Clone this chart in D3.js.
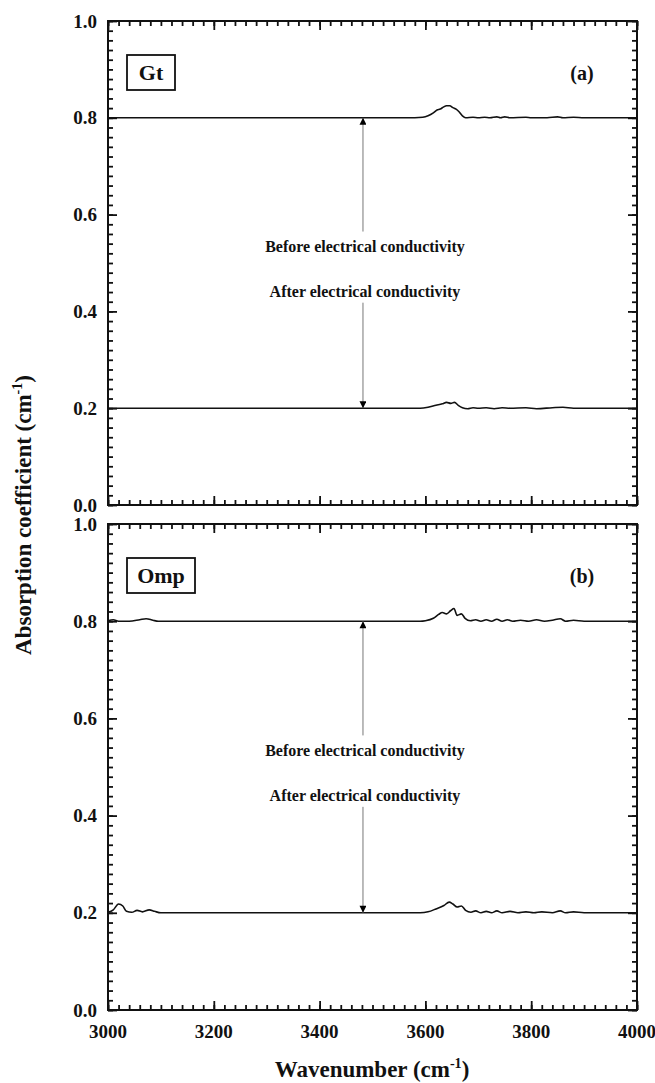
<!DOCTYPE html>
<html>
<head>
<meta charset="utf-8">
<script src="https://cdn.jsdelivr.net/npm/d3@7"></script>
<style>
  html, body { margin: 0; padding: 0; background: #fff; }
  svg { display: block; }
</style>
</head>
<body>
<svg id="chart" width="655" height="1083"></svg>
<script>
// Wavenumber axis ticks and absorption-coefficient ticks
const xTickValues = [3000, 3200, 3400, 3600, 3800, 4000];
const yTickValues = [0.0, 0.2, 0.4, 0.6, 0.8, 1.0];

// Gt (garnet) spectra: [wavenumber, absorption coefficient], offset for display
const gtBefore = [
  [3000,0.800],[3100,0.800],[3200,0.800],[3300,0.800],[3400,0.800],[3500,0.800],
  [3580,0.800],[3595,0.801],[3605,0.804],[3615,0.810],[3622,0.816],[3628,0.818],
  [3634,0.822],[3640,0.825],[3646,0.825],[3652,0.821],[3658,0.818],[3664,0.812],
  [3670,0.804],[3676,0.800],[3690,0.801],[3700,0.800],[3712,0.801],[3722,0.800],
  [3735,0.802],[3742,0.800],[3750,0.802],[3760,0.800],[3790,0.801],[3800,0.800],
  [3830,0.800],[3850,0.802],[3860,0.800],[3880,0.801],[3900,0.800],[3950,0.800],[4000,0.800]
];
const gtAfter = [
  [3000,0.200],[3100,0.200],[3200,0.200],[3300,0.200],[3400,0.200],[3500,0.200],
  [3590,0.200],[3605,0.202],[3620,0.206],[3632,0.209],[3640,0.212],[3648,0.210],
  [3655,0.212],[3662,0.206],[3670,0.201],[3680,0.199],[3690,0.201],[3700,0.200],
  [3715,0.201],[3730,0.199],[3745,0.201],[3760,0.200],[3790,0.201],[3810,0.199],
  [3840,0.201],[3860,0.202],[3880,0.200],[3950,0.200],[4000,0.200]
];

// Omp (omphacite) spectra
const ompBefore = [
  [3000,0.801],[3010,0.803],[3020,0.800],[3040,0.800],[3060,0.803],[3072,0.805],
  [3085,0.802],[3095,0.800],[3200,0.800],[3300,0.800],[3400,0.800],[3500,0.800],
  [3590,0.800],[3600,0.801],[3615,0.806],[3625,0.814],[3632,0.818],[3640,0.815],
  [3648,0.822],[3654,0.826],[3660,0.812],[3668,0.815],[3675,0.806],[3685,0.801],
  [3695,0.803],[3705,0.800],[3715,0.803],[3725,0.800],[3735,0.804],[3745,0.800],
  [3755,0.803],[3765,0.800],[3780,0.802],[3795,0.800],[3810,0.803],[3825,0.800],
  [3840,0.802],[3855,0.805],[3865,0.800],[3880,0.802],[3900,0.800],[3950,0.800],[4000,0.800]
];
const ompAfter = [
  [3000,0.201],[3010,0.206],[3020,0.218],[3028,0.214],[3035,0.203],[3045,0.201],
  [3055,0.205],[3065,0.202],[3078,0.206],[3088,0.203],[3100,0.200],[3200,0.200],
  [3300,0.200],[3400,0.200],[3500,0.200],[3590,0.200],[3605,0.202],[3620,0.208],
  [3635,0.215],[3645,0.222],[3652,0.218],[3660,0.212],[3668,0.214],[3676,0.205],
  [3686,0.201],[3695,0.204],[3705,0.200],[3715,0.203],[3725,0.200],[3735,0.204],
  [3745,0.200],[3760,0.203],[3775,0.200],[3790,0.202],[3805,0.200],[3820,0.202],
  [3840,0.200],[3855,0.204],[3865,0.200],[3880,0.202],[3900,0.200],[3950,0.200],[4000,0.200]
];

const panelNames = ["Gt", "Omp"];
const panelTags = ["(a)", "(b)"];
const arrowWavenumber = 3482;
const noteBefore = "Before electrical conductivity";
const noteAfter = "After electrical conductivity";

const FONT = "Liberation Serif";
const INK = "#111";

const svg = d3.select("#chart");
const left = 108, right = 637;
const panelBoxes = [{ top: 21, bottom: 505 }, { top: 524, bottom: 1010 }];
const series = [[gtBefore, gtAfter], [ompBefore, ompAfter]];

const x = d3.scaleLinear().domain([3000, 4000]).range([left, right]);
const minorX = d3.range(3000, 4001, 20);
const minorY = d3.range(0, 51).map(k => k / 50);

const defs = svg.append("defs");
defs.append("marker")
  .attr("id", "head")
  .attr("viewBox", "0 0 10 10")
  .attr("refX", 10).attr("refY", 5)
  .attr("markerWidth", 10).attr("markerHeight", 7)
  .attr("markerUnits", "userSpaceOnUse")
  .attr("orient", "auto")
  .append("path").attr("d", "M0,0 L10,5 L0,10 Z").attr("fill", "#000");

function styleTicks(g) {
  g.select(".domain").remove();
  g.selectAll(".tick line").attr("stroke", INK).attr("stroke-width", 1.8);
}

function txt(parent) {
  return parent.append("text")
    .attr("font-family", FONT).attr("font-weight", "bold").attr("fill", INK);
}

panelBoxes.forEach((box, i) => {
  const y = d3.scaleLinear().domain([0, 1]).range([box.bottom, box.top]);
  const g = svg.append("g");

  // inward ticks on all four sides: minor and major
  const sides = [
    [d3.axisBottom, `translate(0,${box.bottom})`, x, minorX, xTickValues],
    [d3.axisTop, `translate(0,${box.top})`, x, minorX, xTickValues],
    [d3.axisLeft, `translate(${left},0)`, y, minorY, yTickValues],
    [d3.axisRight, `translate(${right},0)`, y, minorY, yTickValues]
  ];
  sides.forEach(([axisFn, tr, sc, minor, major]) => {
    g.append("g").attr("transform", tr)
      .call(axisFn(sc).tickValues(minor).tickSize(-5).tickFormat(""))
      .call(styleTicks);
    g.append("g").attr("transform", tr)
      .call(axisFn(sc).tickValues(major).tickSize(-9).tickFormat(""))
      .call(styleTicks);
  });

  // frame
  g.append("rect")
    .attr("x", left).attr("y", box.top)
    .attr("width", right - left).attr("height", box.bottom - box.top)
    .attr("fill", "none").attr("stroke", INK).attr("stroke-width", 2);

  // y tick labels
  yTickValues.forEach(v => {
    txt(g).attr("x", 97).attr("y", y(v)).attr("dy", "0.35em")
      .attr("text-anchor", "end").attr("font-size", 19)
      .text(d3.format(".1f")(v));
  });

  // spectra
  const line = d3.line().x(d => x(d[0])).y(d => y(d[1])).curve(d3.curveMonotoneX);
  series[i].forEach(s => {
    g.append("path").datum(s).attr("d", line)
      .attr("fill", "none").attr("stroke", INK).attr("stroke-width", 1.6);
  });

  // sample name box
  const nameW = i === 0 ? 48 : 68;
  const nameTop = box.top + 34;
  g.append("rect")
    .attr("x", 127).attr("y", nameTop).attr("width", nameW).attr("height", 35)
    .attr("fill", "#fff").attr("stroke", INK).attr("stroke-width", 1.8);
  txt(g).attr("x", 127 + nameW / 2).attr("y", nameTop + 17.5).attr("dy", "0.35em")
    .attr("text-anchor", "middle").attr("font-size", 22)
    .text(panelNames[i]);

  txt(g).attr("x", 582).attr("y", box.top + 52).attr("dy", "0.35em")
    .attr("text-anchor", "middle").attr("font-size", 20)
    .text(panelTags[i]);

  // connecting arrows between the two spectra
  const ax = x(arrowWavenumber);
  g.append("line")
    .attr("x1", ax).attr("x2", ax)
    .attr("y1", y(0.565)).attr("y2", y(0.8))
    .attr("stroke", "#777").attr("stroke-width", 1)
    .attr("marker-end", "url(#head)");
  g.append("line")
    .attr("x1", ax).attr("x2", ax)
    .attr("y1", y(0.418)).attr("y2", y(0.2))
    .attr("stroke", "#777").attr("stroke-width", 1)
    .attr("marker-end", "url(#head)");

  txt(g).attr("x", ax + 2).attr("y", y(0.535)).attr("dy", "0.35em")
    .attr("text-anchor", "middle").attr("font-size", 16)
    .text(noteBefore);
  txt(g).attr("x", ax + 2).attr("y", y(0.442)).attr("dy", "0.35em")
    .attr("text-anchor", "middle").attr("font-size", 16)
    .text(noteAfter);
});

// x tick labels under the lower panel
xTickValues.forEach(v => {
  txt(svg).attr("x", x(v)).attr("y", 1031).attr("dy", "0.35em")
    .attr("text-anchor", "middle").attr("font-size", 19)
    .text(v);
});

// axis titles with superscript -1
function title(sel, main) {
  sel.append("tspan").text(main);
  sel.append("tspan").attr("dy", -9).attr("font-size", 14).text("-1");
  sel.append("tspan").attr("dy", 9).text(")");
}
txt(svg).attr("x", 372).attr("y", 1077)
  .attr("text-anchor", "middle").attr("font-size", 23)
  .call(title, "Wavenumber (cm");

txt(svg).attr("transform", "translate(31,515) rotate(-90)")
  .attr("text-anchor", "middle").attr("font-size", 23)
  .call(title, "Absorption coefficient  (cm");
</script>
</body>
</html>
